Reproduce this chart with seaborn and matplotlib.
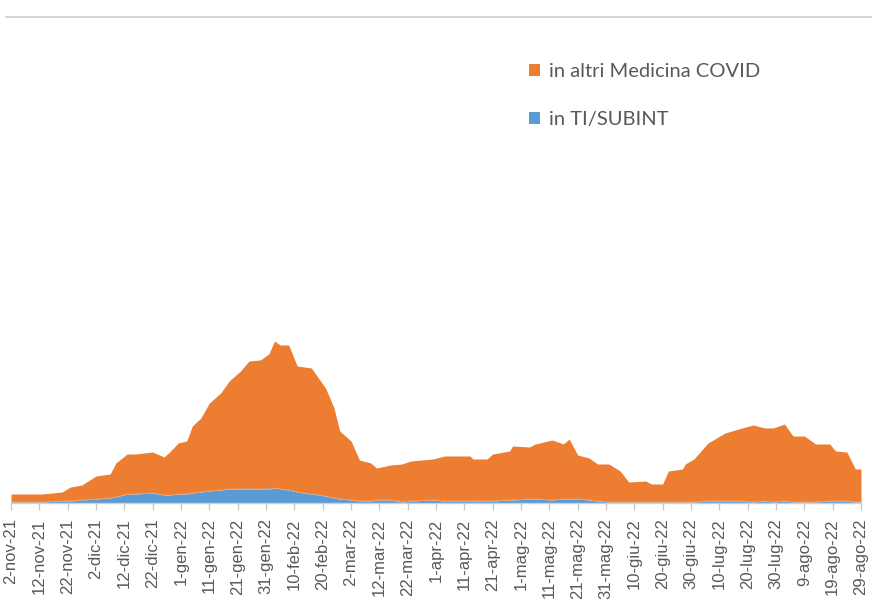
import numpy as np
import pandas as pd
import matplotlib
matplotlib.use("Agg")
import matplotlib.pyplot as plt
from matplotlib.patches import Patch
from matplotlib.lines import Line2D
import seaborn as sns

# ---- data (arbitrary units) ----
start_date = "2021-11-02"
giorni = [0, 11, 18, 21, 25, 30, 35, 37, 41, 44, 50, 54, 56, 59, 62, 64, 67, 70, 74, 77,
          81, 84, 88, 91, 93, 95, 98, 101, 106, 111, 114, 116, 120, 123, 127, 129, 134, 138,
          141, 149, 153, 162, 163, 168, 170, 176, 177, 183, 185, 191, 195, 197, 200, 204,
          207, 211, 215, 218, 224, 226, 230, 232, 237, 238, 241, 246, 252, 258, 262, 266,
          269, 273, 276, 280, 284, 289, 291, 295, 298, 300]
ti_subint = [1, 1, 2, 2, 3, 4, 5, 6, 9, 9, 10, 8, 8, 9, 9, 10, 11, 12, 13, 14,
             14, 14, 14, 14, 15, 14, 13, 11, 9, 7, 5, 4, 3, 2, 2, 3, 3, 1,
             2, 3, 2, 2, 2, 2, 2, 3, 3, 4, 4, 3, 4, 4, 4, 3,
             2, 1, 1, 1, 1, 1, 1, 1, 1, 1, 1, 2, 2, 2, 1, 2,
             1, 2, 1, 1, 1, 2, 2, 2, 1, 1]
altri_medicina = [8, 8, 9, 14, 15, 23, 24, 34, 40, 40, 41, 38, 43, 51, 53, 67, 74, 88, 97, 108,
                  118, 128, 129, 135, 147, 144, 145, 126, 126, 108, 90, 68, 59, 41, 38, 32, 35, 38,
                  40, 41, 45, 45, 42, 42, 47, 49, 54, 52, 55, 60, 55, 60, 44, 42,
                  37, 38, 31, 20, 21, 18, 18, 31, 33, 38, 43, 58, 68, 73, 77, 73,
                  74, 77, 66, 66, 58, 57, 50, 49, 33, 33]
series_names = ["in TI/SUBINT", "in altri Medicina COVID"]
tick_labels = ["2-nov-21", "12-nov-21", "22-nov-21", "2-dic-21", "12-dic-21", "22-dic-21",
               "1-gen-22", "11-gen-22", "21-gen-22", "31-gen-22", "10-feb-22", "20-feb-22",
               "2-mar-22", "12-mar-22", "22-mar-22", "1-apr-22", "11-apr-22", "21-apr-22",
               "1-mag-22", "11-mag-22", "21-mag-22", "31-mag-22", "10-giu-22", "20-giu-22",
               "30-giu-22", "10-lug-22", "20-lug-22", "30-lug-22", "9-ago-22", "19-ago-22",
               "29-ago-22"]
tick_step_days = 10

colors = ["#5B9BD5", "#ED7D31"]

sns.set_theme(style="white")
plt.rcParams['font.family'] = ['Liberation Sans', 'DejaVu Sans']

t0 = pd.Timestamp(start_date)
dates = t0 + pd.to_timedelta(giorni, unit="D")
df = pd.DataFrame({"data": dates, series_names[0]: ti_subint, series_names[1]: altri_medicina})

fig = plt.figure(figsize=(8.72, 6.12), dpi=100)
ax = fig.add_axes([11 / 872, 1 - 503 / 612, 850 / 872, 480 / 612])

ax.stackplot(df["data"], df[series_names[0]], df[series_names[1]],
             colors=colors, linewidth=0)
# faint outline of the lower series (as in the reference)
sns.lineplot(x=df["data"], y=df[series_names[0]], ax=ax, color="#c9dcef",
             linewidth=0.6, linestyle=":")

ax.set_xlim(dates[0], dates[-1])
ax.set_ylim(0, 480)
ax.set_yticks([])
ax.set_ylabel("")
ax.set_xlabel("")

tick_pos = [t0 + pd.Timedelta(days=tick_step_days * i) for i in range(len(tick_labels))]
ax.set_xticks(tick_pos)
ax.set_xticklabels(tick_labels, rotation=90, fontsize=12, color="#595959")
ax.tick_params(axis="x", bottom=True, length=5, width=1, color="#c8c8c8", pad=6)

for s in ["top", "left", "right"]:
    ax.spines[s].set_visible(False)
ax.spines["bottom"].set_color("#d0d0d0")
ax.spines["bottom"].set_linewidth(1)

handles = [Patch(facecolor=colors[1], edgecolor="none"),
           Patch(facecolor=colors[0], edgecolor="none")]
leg = ax.legend(handles, [series_names[1], series_names[0]],
                loc="upper left", bbox_to_anchor=(529 / 872, 1 - 63 / 612),
                bbox_transform=fig.transFigure, frameon=False,
                borderpad=0, borderaxespad=0, handlelength=0.55, handleheight=0.55,
                handletextpad=0.45, labelspacing=1.55,
                prop={"family": ["Lato", "DejaVu Sans"], "size": 14.5})
for t in leg.get_texts():
    t.set_color("#595959")

fig.add_artist(Line2D([6 / 872, 1.0], [1 - 17 / 612, 1 - 17 / 612],
                      transform=fig.transFigure, color="#d4d4d4", linewidth=1.5))

fig.savefig("out.png", dpi=100)
